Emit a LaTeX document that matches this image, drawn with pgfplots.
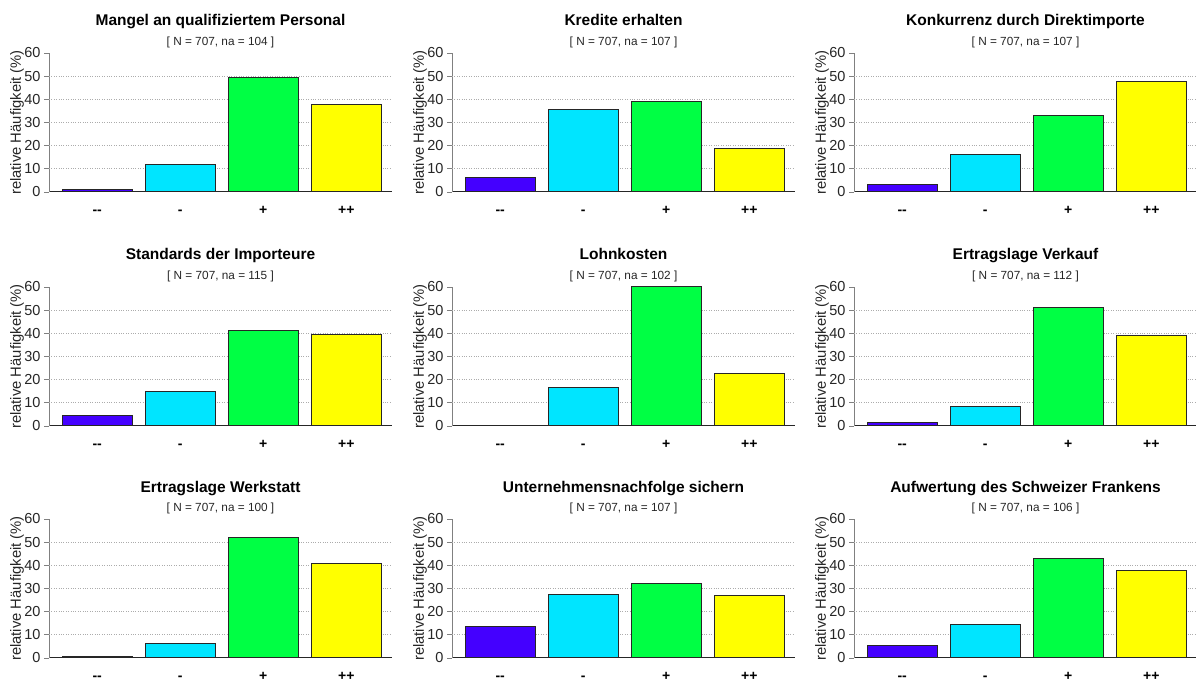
\documentclass[border=0pt]{standalone}
\usepackage{fontspec}
\setmainfont{Liberation Sans}
\usepackage{pgfplots}
\pgfplotsset{compat=1.18}
\definecolor{cA}{HTML}{4400FF}
\definecolor{cB}{HTML}{00E5FF}
\definecolor{cC}{HTML}{00FF44}
\definecolor{cD}{HTML}{FFFF00}
\pgfplotsset{panel/.style={
  scale only axis, width=343pt, height=139pt, anchor=south west,
  xmin=-0.58, xmax=3.55, ymin=0, ymax=60,
  axis lines=left, axis line style={-},
  x axis line style={black!85, line width=1pt},
  y axis line style={gray, line width=1pt},
  ytick={0,10,...,60}, xtick={0,1,2,3},
  xticklabels={{-{}-},{-},{+},{++}},
  xticklabel style={font=\bfseries\fontsize{14}{14}\selectfont, anchor=base, yshift=-18pt},
  major x tick style={draw=none},
  yticklabel style={font=\fontsize{14.5}{14.5}\selectfont, text=black!85},
  tick align=outside, major tick length=5pt,
  ytick style={gray, line width=0.8pt},
  /pgf/number format/assume math mode=true,
  extra y ticks={10,20,30,40,50}, extra y tick labels={},
  extra y tick style={grid=major, major tick length=0pt},
  grid style={gray!65, dotted, line width=0.7pt},
  ylabel={relative Häufigkeit (\%)},
  every axis y label/.style={at={(axis description cs:-0.093,0.5)}, rotate=90, anchor=center, font=\fontsize{14.8}{14.8}\selectfont, text=black!85},
  ybar, bar width=70pt, clip=false,
}}
\newcommand\panel[8]{%
\begin{axis}[panel, at={(#3pt,#4pt)}]
\addplot[fill=cA, draw=black!85, line width=1pt, bar shift=0pt] coordinates {(0,#5)};
\addplot[fill=cB, draw=black!85, line width=1pt, bar shift=0pt] coordinates {(1,#6)};
\addplot[fill=cC, draw=black!85, line width=1pt, bar shift=0pt] coordinates {(2,#7)};
\addplot[fill=cD, draw=black!85, line width=1pt, bar shift=0pt] coordinates {(3,#8)};
\node[anchor=base, font=\bfseries\fontsize{15.5}{15.5}\selectfont, yshift=27pt] at (rel axis cs:0.5,1) {#1};
\node[anchor=base, font=\fontsize{11.8}{11.8}\selectfont, text=black!85, yshift=7.5pt] at (rel axis cs:0.5,1) {[ N = 707, na = #2 ]};
\end{axis}}
\begin{document}
\begin{tikzpicture}
\path[use as bounding box] (0,0) rectangle (1196pt,682pt);
\panel{Mangel an qualifiziertem Personal}{104}{49}{490}{1.2}{11.7}{49.3}{37.8}
\panel{Kredite erhalten}{107}{452}{490}{6.4}{35.8}{39.2}{18.6}
\panel{Konkurrenz durch Direktimporte}{107}{854}{490}{3.3}{16.1}{33.1}{47.5}
\panel{Standards der Importeure}{115}{49}{256}{4.4}{14.7}{41.2}{39.7}
\panel{Lohnkosten}{102}{452}{256}{0.3}{16.8}{60.3}{22.6}
\panel{Ertragslage Verkauf}{112}{854}{256}{1.5}{8.4}{51.2}{38.9}
\panel{Ertragslage Werkstatt}{100}{49}{24}{0.5}{6.2}{52.2}{40.9}
\panel{Unternehmensnachfolge sichern}{107}{452}{24}{13.5}{27.4}{32.1}{27.0}
\panel{Aufwertung des Schweizer Frankens}{106}{854}{24}{5.2}{14.3}{42.9}{37.9}
\end{tikzpicture}
\end{document}
